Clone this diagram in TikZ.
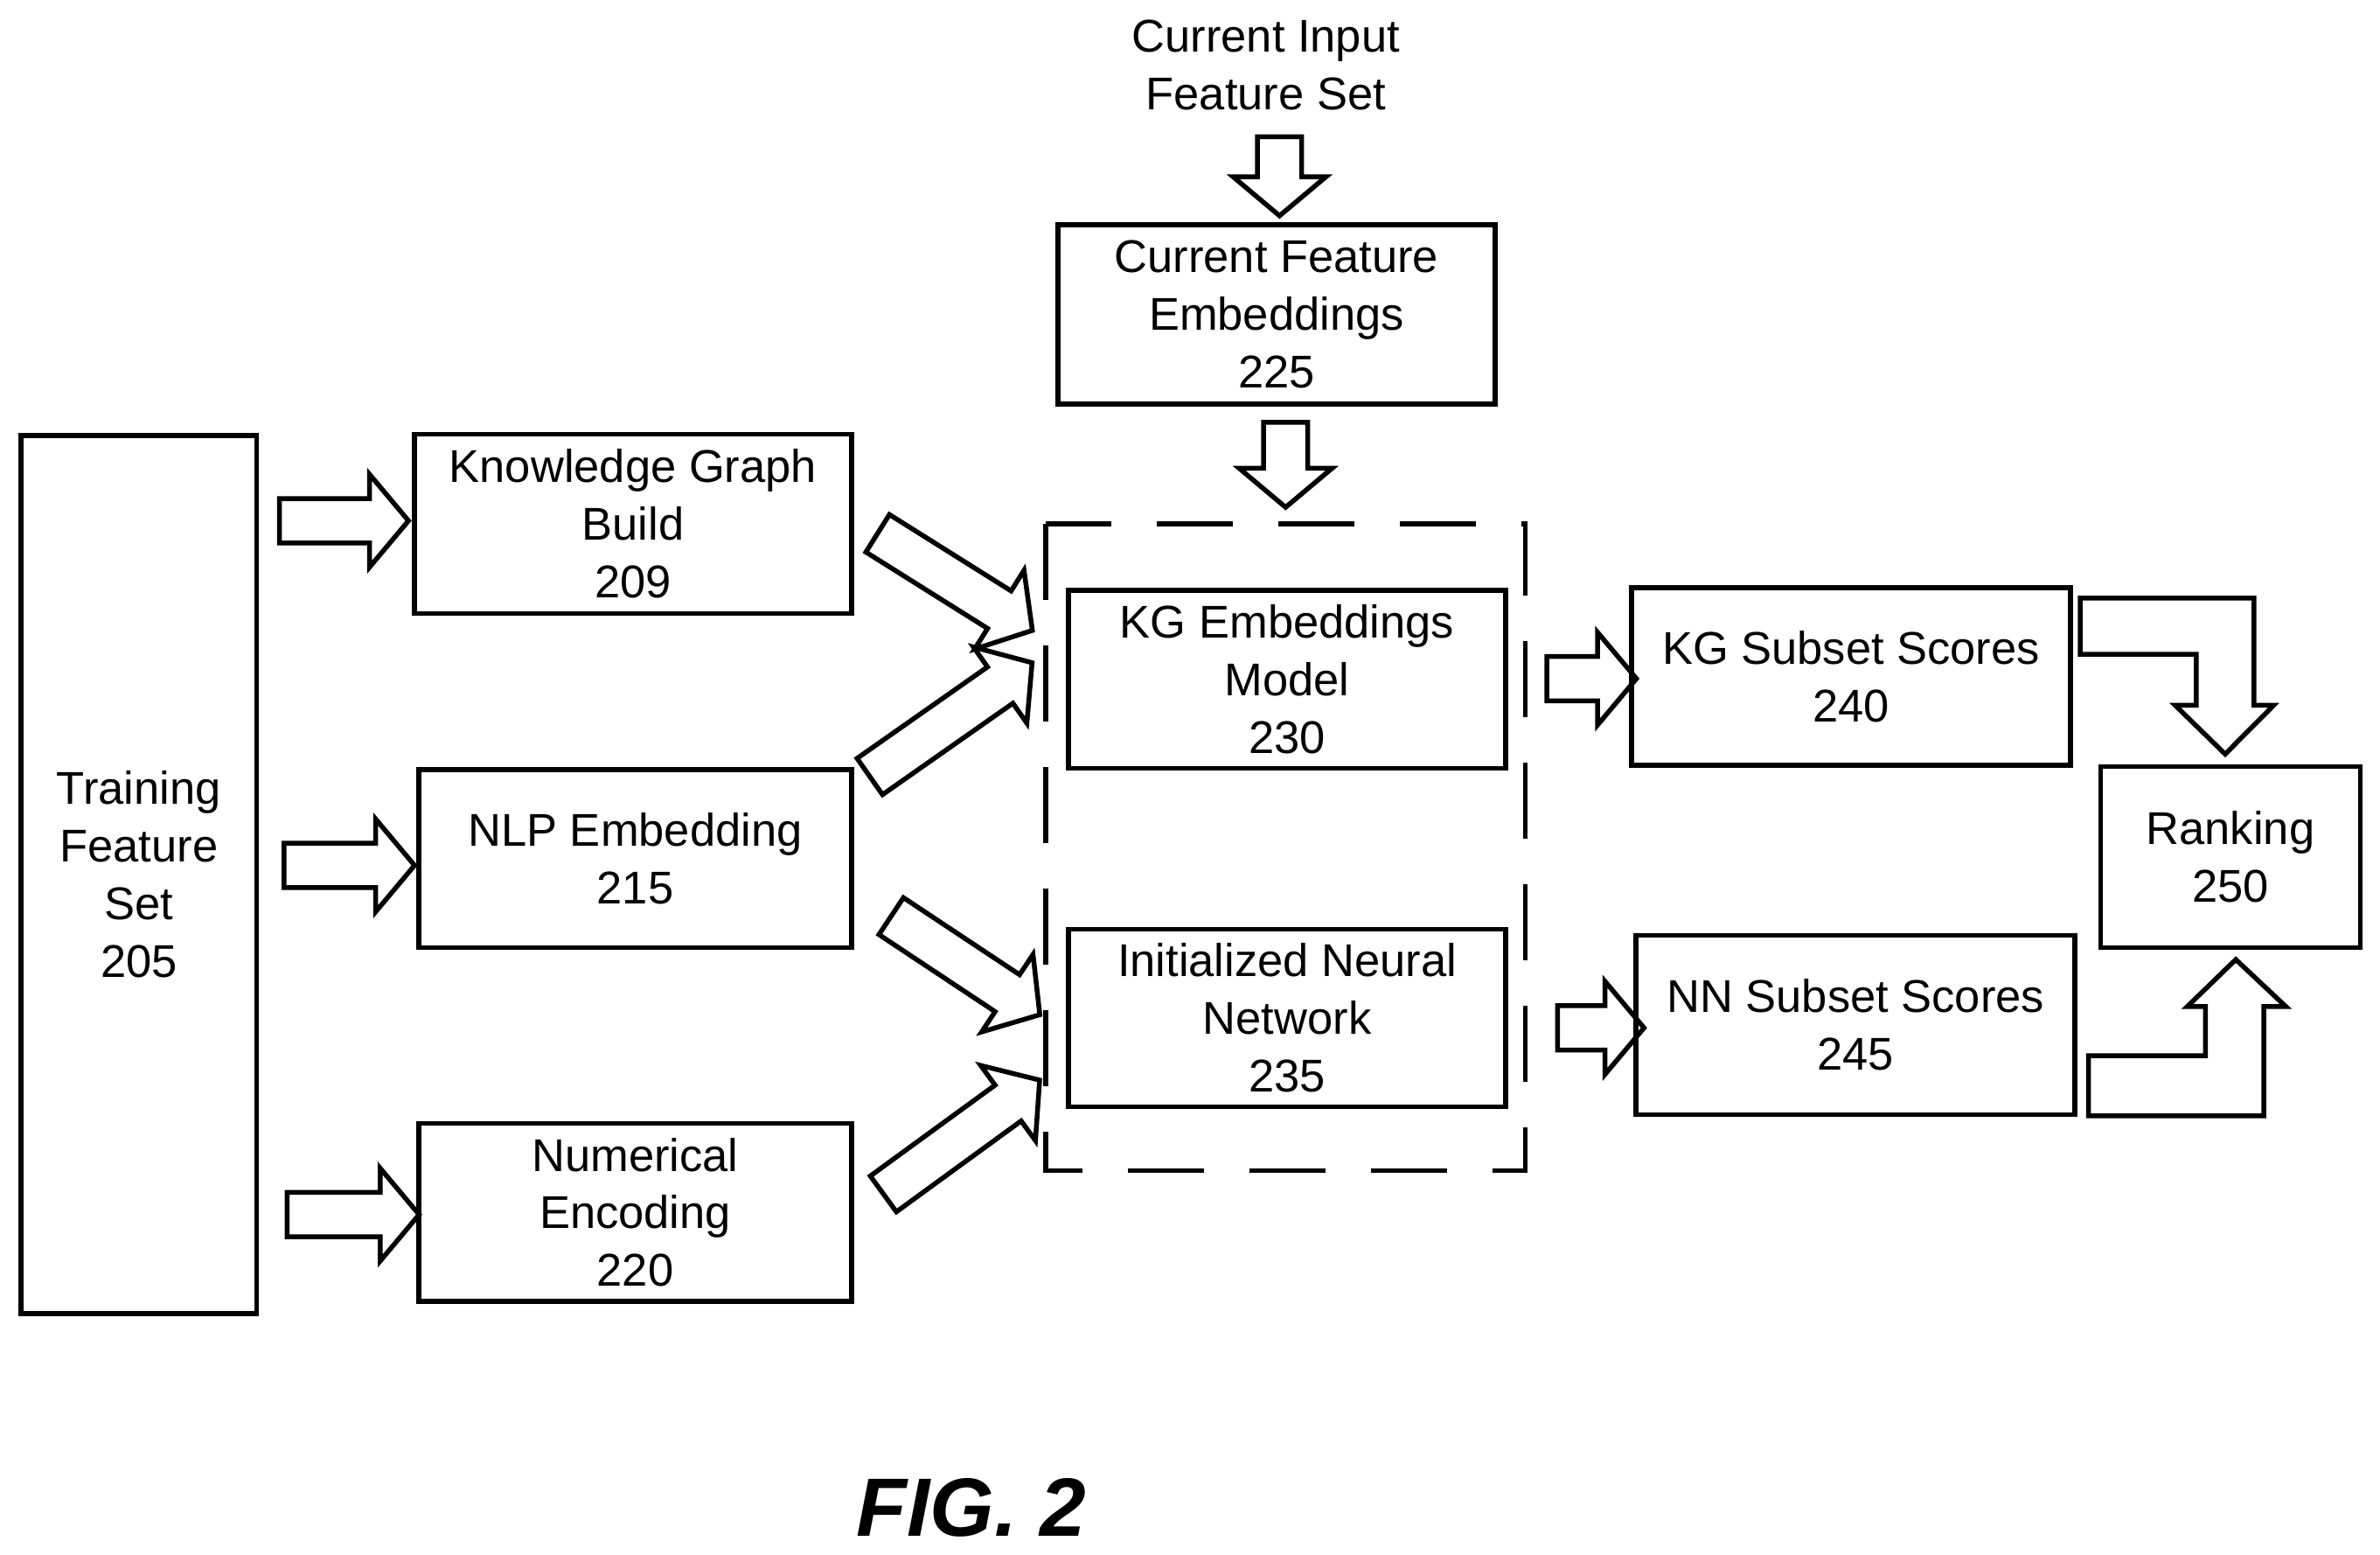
\documentclass[tikz,border=0pt]{standalone}
\usepackage{fontspec}
\setmainfont{Liberation Sans}
\usetikzlibrary{shapes.arrows,calc}
\tikzset{
  box/.style={draw,line width=0.9pt,align=center,font=\fontsize{8.6}{10.8}\selectfont,inner sep=0pt},
  blockarr/.style={single arrow,draw,line width=0.9pt,inner sep=0pt,
    single arrow head extend=1.6mm,single arrow tip angle=100,minimum width=5.8mm}
}
\newcommand{\blockarrow}[2]{%
  \path let \p1=(#1), \p2=(#2), \n1={atan2(\y2-\y1,\x2-\x1)}, \n2={veclen(\x2-\x1,\y2-\y1)} in
    node[blockarr,minimum height=\n2,rotate=\n1] at ($(#1)!0.5!(#2)$) {\rule{0pt}{2.6mm}};}
\begin{document}
\begin{tikzpicture}[x=0.01cm,y=-0.01cm]
  \useasboundingbox (0,0) rectangle (1568,1024);
  % Boxes
  \node[box,minimum width=15.5mm,minimum height=57.8mm] (train) at (91.5,576) {Training\\Feature\\Set\\205};
  \node[box,minimum width=28.8mm,minimum height=11.8mm] (kgb) at (417,345) {Knowledge Graph\\Build\\209};
  \node[box,minimum width=28.5mm,minimum height=11.7mm] (nlp) at (418.5,565.5) {NLP Embedding\\215};
  \node[box,minimum width=28.5mm,minimum height=11.7mm] (num) at (418.5,798.5) {Numerical\\Encoding\\220};
  \node[box,minimum width=28.8mm,minimum height=11.8mm] (cfe) at (841,207) {Current Feature\\Embeddings\\225};
  \node[align=center,font=\fontsize{8.6}{10.8}\selectfont] (input) at (834,43) {Current Input\\Feature Set};
  \draw[line width=0.9pt,dash pattern=on 5mm off 3mm] (689,345) rectangle (1005,771);
  \coordinate (dash) at (847,345);
  \node[box,minimum width=28.8mm,minimum height=11.7mm] (kge) at (848,447.5) {KG Embeddings\\Model\\230};
  \node[box,minimum width=28.8mm,minimum height=11.7mm] (inn) at (848,670.5) {Initialized Neural\\Network\\235};
  \node[box,minimum width=28.9mm,minimum height=11.7mm] (kgs) at (1219.5,445.5) {KG Subset Scores\\240};
  \node[box,minimum width=28.9mm,minimum height=11.8mm] (nns) at (1222.5,675) {NN Subset Scores\\245};
  \node[box,minimum width=17.1mm,minimum height=11.9mm] (rank) at (1469.5,564.5) {Ranking\\250};
  \node[font=\bfseries\itshape\fontsize{15.5}{18}\selectfont] (fig) at (640,993) {FIG. 2};
  % Block arrows
  \blockarrow{178,343}{263,343}
  \blockarrow{181,570}{267,570}
  \blockarrow{183,800}{270,800}
  \blockarrow{843,84}{843,136}
  \blockarrow{847,272}{847,328}
  \blockarrow{573,348}{675,412}
  \blockarrow{568,515}{675,440}
  \blockarrow{582,600}{680,665}
  \blockarrow{577,790}{680,715}
  \blockarrow{1013,447}{1072,447}
  \blockarrow{1020,677}{1077,677}
  % Bent arrows
  \draw[line width=0.9pt,line join=miter] (1370.5,394) -- (1485,394) -- (1485,464.5) -- (1498,464.5)
    -- (1466,496.7) -- (1433,464.5) -- (1447,464.5) -- (1447,431) -- (1370.5,431) -- cycle;
  \draw[line width=0.9pt,line join=miter] (1376,735) -- (1491.5,735) -- (1491.5,663) -- (1506,663)
    -- (1473,632) -- (1441,663) -- (1453,663) -- (1453,695.4) -- (1376,695.4) -- cycle;
\end{tikzpicture}
\end{document}
